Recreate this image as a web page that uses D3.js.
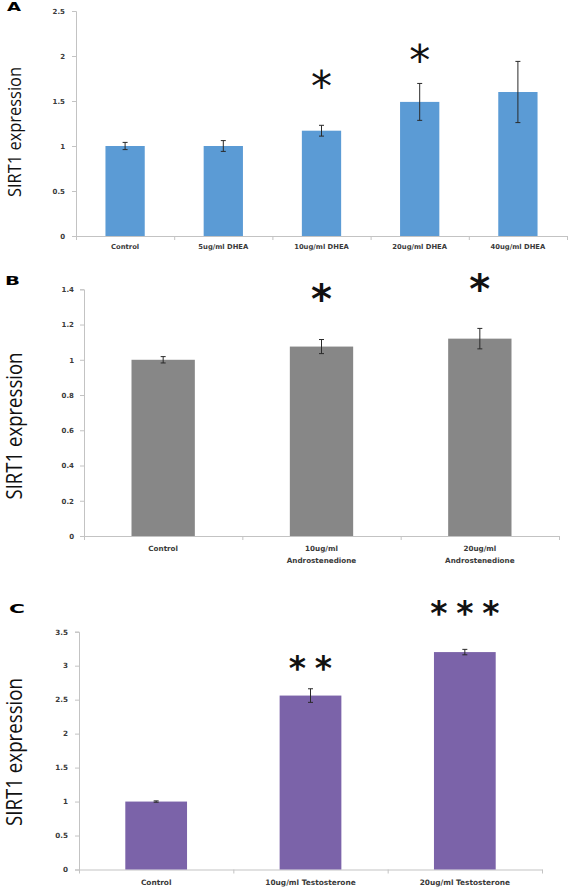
<!DOCTYPE html>
<html>
<head>
<meta charset="utf-8">
<script src="https://cdn.jsdelivr.net/npm/d3@7/dist/d3.min.js"></script>
<style>
  html, body { margin: 0; padding: 0; background: #fff; }
  svg { display: block; }
</style>
</head>
<body>
<svg id="chart" width="568" height="887"></svg>
<script>
// ---------- Panel A: DHEA ----------
const catsA = ["Control", "5ug/ml DHEA", "10ug/ml DHEA", "20ug/ml DHEA", "40ug/ml DHEA"];
const valsA = [1.0, 1.0, 1.17, 1.49, 1.60];
const errA  = [0.04, 0.06, 0.06, 0.205, 0.34];
const starsA = [0, 0, 1, 1, 0];
const starYA = [null, null, 1.76, 2.05, null];
const ticksA = [0, 0.5, 1, 1.5, 2, 2.5];

// ---------- Panel B: Androstenedione ----------
const catsB = ["Control", "10ug/ml|Androstenedione", "20ug/ml|Androstenedione"];
const valsB = [1.0, 1.075, 1.12];
const errB  = [0.018, 0.04, 0.058];
const starsB = [0, 1, 1];
const starYB = [null, 1.39, 1.447];
const ticksB = [0, 0.2, 0.4, 0.6, 0.8, 1, 1.2, 1.4];

// ---------- Panel C: Testosterone ----------
const catsC = ["Control", "10ug/ml Testosterone", "20ug/ml Testosterone"];
const valsC = [1.0, 2.56, 3.2];
const errC  = [0.01, 0.1, 0.04];
const starsC = [0, 2, 3];
const starYC = [null, 3.06, 3.86];
const ticksC = [0, 0.5, 1, 1.5, 2, 2.5, 3, 3.5];

const svg = d3.select("#chart");
const tickFont = "DejaVu Sans, Verdana, sans-serif";

function panel(o) {
  const g = svg.append("g");
  const n = o.cats.length;
  const y = d3.scaleLinear().domain([0, o.ymax]).range([o.y0, o.ytop]);
  const xb = d3.scaleBand().domain(o.cats).range([o.x0, o.x1]).paddingInner(0.6).paddingOuter(0.3);
  const xEdge = d3.scaleLinear().domain([0, n]).range([o.x0, o.x1]);

  // y axis
  const ya = g.append("g").attr("transform", `translate(${o.x0},0)`)
    .call(d3.axisLeft(y).tickValues(o.ticks).tickSize(4).tickPadding(o.tickPad)
      .tickFormat(d => d3.format("")(+d.toFixed(1))));
  ya.select(".domain").attr("stroke", "#c3c3c3");
  ya.selectAll(".tick line").attr("stroke", "#c3c3c3");
  ya.selectAll(".tick text").attr("font-family", tickFont).attr("font-size", o.tickSize)
    .attr("font-weight", "bold").attr("fill", "#3a3a3a");

  // x axis with separators
  const xa = g.append("g").attr("transform", `translate(0,${o.y0})`)
    .call(d3.axisBottom(xEdge).tickValues(d3.range(n + 1)).tickSize(4).tickSizeOuter(0).tickFormat(""));
  xa.select(".domain").attr("stroke", "#c3c3c3");
  xa.selectAll(".tick line").attr("stroke", "#c3c3c3");

  // bars
  g.selectAll("rect.bar").data(o.vals).enter().append("rect")
    .attr("x", (d, i) => xb(o.cats[i]))
    .attr("width", xb.bandwidth())
    .attr("y", d => y(d))
    .attr("height", d => y(0) - y(d))
    .attr("fill", o.color);

  // error bars
  const cx = i => xb(o.cats[i]) + xb.bandwidth() / 2;
  const eg = g.append("g").attr("stroke", "#2a2a2a").attr("stroke-width", 1);
  o.vals.forEach((v, i) => {
    const e = o.err[i];
    eg.append("line").attr("x1", cx(i)).attr("x2", cx(i)).attr("y1", y(v + e)).attr("y2", y(v - e));
    eg.append("line").attr("x1", cx(i) - 2.5).attr("x2", cx(i) + 2.5).attr("y1", y(v + e)).attr("y2", y(v + e));
    eg.append("line").attr("x1", cx(i) - 2.5).attr("x2", cx(i) + 2.5).attr("y1", y(v - e)).attr("y2", y(v - e));
  });

  // category labels
  o.cats.forEach((c, i) => {
    const lines = c.split("|");
    const t = g.append("text").attr("x", cx(i)).attr("y", o.y0 + o.labOff)
      .attr("text-anchor", "middle").attr("font-family", tickFont)
      .attr("font-size", o.labSize).attr("font-weight", "bold").attr("fill", "#3a3a3a");
    lines.forEach((l, k) => t.append("tspan").attr("x", cx(i)).attr("dy", k === 0 ? 0 : o.labLine).text(l));
  });

  // significance asterisks
  o.stars.forEach((s, i) => {
    for (let k = 0; k < s; k++) {
      const off = (k - (s - 1) / 2) * o.starGap;
      g.append("text").attr("x", cx(i) + off).attr("y", y(o.starY[i]) + o.starSize * o.starShift)
        .attr("text-anchor", "middle").attr("font-family", o.starFont)
        .attr("font-size", o.starSize).attr("font-weight", o.starWeight).attr("fill", "#111")
        .text("*");
    }
  });

  // y title
  g.append("text")
    .attr("transform", `translate(${o.titleX},${o.titleY}) rotate(-90)`)
    .attr("text-anchor", "middle").attr("font-family", "Open Sans, sans-serif")
    .attr("font-size", o.titleSize).attr("fill", "#111")
    .attr("textLength", o.titleLen).attr("lengthAdjust", "spacingAndGlyphs")
    .text("SIRT1 expression");

  // panel letter
  g.append("text").attr("x", o.letX).attr("y", o.letY)
    .attr("font-family", "DejaVu Sans, sans-serif").attr("font-weight", "bold")
    .attr("font-size", 13).attr("textLength", o.letW).attr("lengthAdjust", "spacingAndGlyphs")
    .attr("fill", "#000").text(o.letter);
}

panel({
  cats: catsA, vals: valsA, err: errA, stars: starsA, starY: starYA, ticks: ticksA,
  ymax: 2.5, x0: 76, x1: 567, y0: 236, ytop: 11, color: "#5b9bd5",
  tickPad: 7, tickSize: 7, labSize: 6.8, labOff: 13, labLine: 12,
  starGap: 26, starSize: 42, starWeight: "normal", starFont: "DejaVu Sans, sans-serif", starShift: 0.55,
  titleX: 21, titleY: 132, titleSize: 19, titleLen: 130,
  letter: "A", letX: 7, letY: 11, letW: 14
});

panel({
  cats: catsB, vals: valsB, err: errB, stars: starsB, starY: starYB, ticks: ticksB,
  ymax: 1.4, x0: 84, x1: 559, y0: 536, ytop: 289.3, color: "#878787",
  tickPad: 6, tickSize: 7, labSize: 7.2, labOff: 15, labLine: 12,
  starGap: 26, starSize: 40, starWeight: "bold", starFont: "DejaVu Sans, sans-serif", starShift: 0.55,
  titleX: 22, titleY: 426, titleSize: 21.5, titleLen: 147,
  letter: "B", letX: 5, letY: 285, letW: 15
});

panel({
  cats: catsC, vals: valsC, err: errC, stars: starsC, starY: starYC, ticks: ticksC,
  ymax: 3.5, x0: 79, x1: 542, y0: 869.5, ytop: 631.7, color: "#7b63a9",
  tickPad: 7, tickSize: 7.2, labSize: 7.4, labOff: 15.5, labLine: 12,
  starGap: 26, starSize: 33, starWeight: "bold", starFont: "DejaVu Sans, sans-serif", starShift: 0.55,
  titleX: 22, titleY: 752, titleSize: 21.5, titleLen: 148,
  letter: "C", letX: 9, letY: 613, letW: 16
});
</script>
</body>
</html>
